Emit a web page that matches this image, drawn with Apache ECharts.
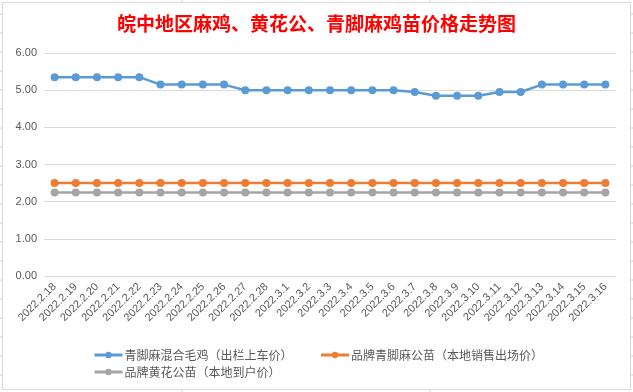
<!DOCTYPE html>
<html><head><meta charset="utf-8">
<script src="https://cdn.jsdelivr.net/npm/echarts@6/dist/echarts.min.js"></script>
<style>html,body{margin:0;padding:0;background:#fff;}#c{width:633px;height:392px;}</style>
</head><body><div id="c"></div>
<script>
const categories = ['2022.2.18','2022.2.19','2022.2.20','2022.2.21','2022.2.22','2022.2.23','2022.2.24','2022.2.25','2022.2.26','2022.2.27','2022.2.28','2022.3.1','2022.3.2','2022.3.3','2022.3.4','2022.3.5','2022.3.6','2022.3.7','2022.3.8','2022.3.9','2022.3.10','2022.3.11','2022.3.12','2022.3.13','2022.3.14','2022.3.15','2022.3.16'];
const seriesNames = ['青脚麻混合毛鸡（出栏上车价）','品牌青脚麻公苗（本地销售出场价）','品牌黄花公苗（本地到户价）'];
const qingjiaoMaoji = [5.35,5.35,5.35,5.35,5.35,5.15,5.15,5.15,5.15,5.0,5.0,5.0,5.0,5.0,5.0,5.0,5.0,4.95,4.85,4.85,4.85,4.95,4.95,5.15,5.15,5.15,5.15];
const qingjiaoGongmiao = [2.5,2.5,2.5,2.5,2.5,2.5,2.5,2.5,2.5,2.5,2.5,2.5,2.5,2.5,2.5,2.5,2.5,2.5,2.5,2.5,2.5,2.5,2.5,2.5,2.5,2.5,2.5];
const huanghuaGongmiao = [2.25,2.25,2.25,2.25,2.25,2.25,2.25,2.25,2.25,2.25,2.25,2.25,2.25,2.25,2.25,2.25,2.25,2.25,2.25,2.25,2.25,2.25,2.25,2.25,2.25,2.25,2.25];
const titleText = '皖中地区麻鸡、黄花公、青脚麻鸡苗价格走势图';
const colors = ['#5b9bd5','#ed7d31','#a5a5a5'];

const font = '"Noto Sans CJK SC", "Microsoft YaHei", sans-serif';
const chart = echarts.init(document.getElementById('c'), null, {renderer:'canvas'});
function mk(name, data, color){
  return {name, type:'line', data, symbol:'circle', symbolSize:8,
    lineStyle:{color, width:2.5}, itemStyle:{color}, emphasis:{disabled:true}};
}
const stubs = [];
[14,33,52,71,90,109,128,147,166,185,204,223,242,261,280,299,318,337,356,375].forEach(y=>{
  stubs.push({type:'line', shape:{x1:0,y1:y,x2:2,y2:y}, style:{stroke:'#c8cce0',lineWidth:1}, silent:true});
  stubs.push({type:'line', shape:{x1:631,y1:y,x2:633,y2:y}, style:{stroke:'#c8cce0',lineWidth:1}, silent:true});
});
[182,430].forEach(x=>{
  stubs.push({type:'line', shape:{x1:x,y1:0,x2:x,y2:2}, style:{stroke:'#c8cce0',lineWidth:1}, silent:true});
  stubs.push({type:'line', shape:{x1:x,y1:390,x2:x,y2:392}, style:{stroke:'#c8cce0',lineWidth:1}, silent:true});
});
const legendBase = {
  orient:'horizontal', itemGap:27, itemWidth:28, itemHeight:8,
  lineStyle:{width:3},
  textStyle:{color:'#595959', fontSize:12, fontFamily:font, padding:[0,0,0,-3]}
};
chart.setOption({
  animation:false,
  backgroundColor:'#ffffff',
  color:colors,
  title:{text:titleText, left:'center', top:9,
    textStyle:{color:'#ff0000', fontSize:19, fontWeight:'bold', fontFamily:font}},
  grid:{left:44, right:17, top:53, bottom:116, containLabel:false},
  legend:[
    Object.assign({}, legendBase, {data:[seriesNames[0], seriesNames[1]], left:88, top:344}),
    Object.assign({}, legendBase, {data:[seriesNames[2]], left:88, top:361})
  ],
  xAxis:{type:'category', data:categories, boundaryGap:true,
    axisLine:{show:false}, axisTick:{show:false},
    axisLabel:{rotate:45, color:'#595959', fontSize:11, fontFamily:'"Liberation Sans", Arial, sans-serif', interval:0, margin:9}},
  yAxis:{type:'value', min:0, max:6, interval:1,
    axisLine:{show:false}, axisTick:{show:false},
    axisLabel:{color:'#595959', fontSize:11, fontFamily:'"Liberation Sans", Arial, sans-serif', margin:7, formatter:v=>v.toFixed(2)},
    splitLine:{lineStyle:{color:'#d9d9d9', width:1}}},
  series:[mk(seriesNames[0], qingjiaoMaoji, colors[0]), mk(seriesNames[1], qingjiaoGongmiao, colors[1]), mk(seriesNames[2], huanghuaGongmiao, colors[2])],
  graphic:[{type:'rect', shape:{x:2.5,y:2.5,width:628,height:387}, style:{fill:'none', stroke:'#d9d9d9', lineWidth:1}, silent:true, z:-1}].concat(stubs)
});
</script></body></html>
